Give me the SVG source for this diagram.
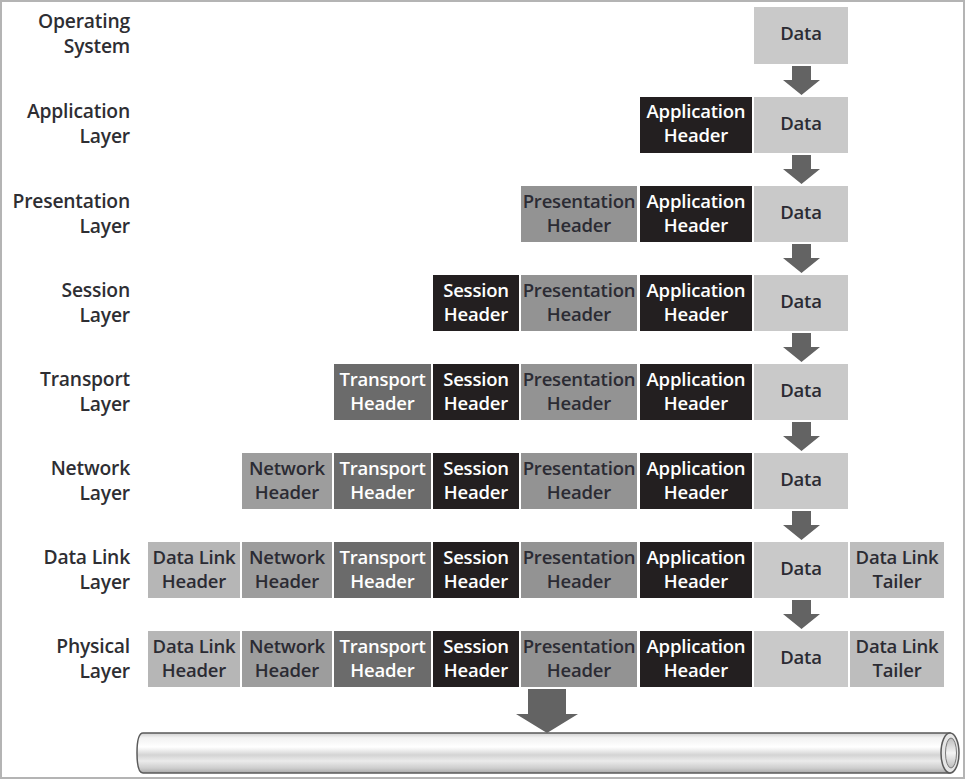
<svg xmlns="http://www.w3.org/2000/svg" width="966" height="780" viewBox="0 0 966 780">
<defs>
<style>
text{font-family:"Open Sans",Lato,"Liberation Sans",sans-serif;font-weight:600;font-size:18.5px;text-anchor:middle;letter-spacing:-0.2px}
.lbl{text-anchor:end;fill:#2e2e33;font-size:19.3px}
.dk{fill:#2b2b33}
.wt{fill:#ffffff}
.data{fill:#c9c9c9}
.app{fill:#231f20}
.pres{fill:#939393}
.ses{fill:#231f20}
.tr{fill:#6b6b6b}
.net{fill:#9d9d9d}
.dlh{fill:#b6b6b6}
.tail{fill:#bdbdbd}
.arr{fill:#636363}
</style>
<linearGradient id="pipe" x1="0" y1="0" x2="0" y2="1">
<stop offset="0" stop-color="#cfcfcf"/>
<stop offset="0.12" stop-color="#f2f2f2"/>
<stop offset="0.35" stop-color="#ffffff"/>
<stop offset="0.55" stop-color="#d4d4d4"/>
<stop offset="0.7" stop-color="#ebebeb"/>
<stop offset="0.88" stop-color="#cdcdcd"/>
<stop offset="1" stop-color="#a8a8a8"/>
</linearGradient>
<linearGradient id="pipeEnd" x1="0" y1="0" x2="0" y2="1">
<stop offset="0" stop-color="#bdbdbd"/>
<stop offset="0.5" stop-color="#f4f4f4"/>
<stop offset="1" stop-color="#bdbdbd"/>
</linearGradient>
</defs>
<rect x="0" y="0" width="966" height="780" fill="#ffffff"/>
<rect x="1" y="1" width="963" height="777" fill="none" stroke="#b4b4b4" stroke-width="2"/>

<g id="labels">
<text class="lbl" x="130" y="28">Operating</text><text class="lbl" x="130" y="53">System</text>
<text class="lbl" x="130" y="118">Application</text><text class="lbl" x="130" y="143">Layer</text>
<text class="lbl" x="130" y="208">Presentation</text><text class="lbl" x="130" y="233">Layer</text>
<text class="lbl" x="130" y="297">Session</text><text class="lbl" x="130" y="322">Layer</text>
<text class="lbl" x="130" y="386">Transport</text><text class="lbl" x="130" y="411">Layer</text>
<text class="lbl" x="130" y="475">Network</text><text class="lbl" x="130" y="500">Layer</text>
<text class="lbl" x="130" y="564">Data Link</text><text class="lbl" x="130" y="589">Layer</text>
<text class="lbl" x="130" y="653">Physical</text><text class="lbl" x="130" y="678">Layer</text>
</g>

<g id="row0">
<g id="r0-data"><rect class="data" x="754" y="7" width="94" height="57"/><text class="dk" x="801" y="40">Data</text></g>
</g>

<g id="row1">
<g id="r1-app"><rect class="app" x="640" y="97" width="112" height="56"/><text class="wt" x="696" y="118">Application</text><text class="wt" x="696" y="142">Header</text></g>
<g id="r1-data"><rect class="data" x="754" y="97" width="94" height="56"/><text class="dk" x="801" y="130">Data</text></g>
</g>

<g id="row2">
<g id="r2-pres"><rect class="pres" x="521" y="186" width="116" height="56"/><text class="dk" x="579" y="208">Presentation</text><text class="dk" x="579" y="232">Header</text></g>
<g id="r2-app"><rect class="app" x="640" y="186" width="112" height="56"/><text class="wt" x="696" y="208">Application</text><text class="wt" x="696" y="232">Header</text></g>
<g id="r2-data"><rect class="data" x="754" y="186" width="94" height="56"/><text class="dk" x="801" y="219">Data</text></g>
</g>

<g id="row3">
<g id="r3-ses"><rect class="ses" x="433" y="275" width="86" height="56"/><text class="wt" x="476" y="297">Session</text><text class="wt" x="476" y="321">Header</text></g>
<g id="r3-pres"><rect class="pres" x="521" y="275" width="116" height="56"/><text class="dk" x="579" y="297">Presentation</text><text class="dk" x="579" y="321">Header</text></g>
<g id="r3-app"><rect class="app" x="640" y="275" width="112" height="56"/><text class="wt" x="696" y="297">Application</text><text class="wt" x="696" y="321">Header</text></g>
<g id="r3-data"><rect class="data" x="754" y="275" width="94" height="56"/><text class="dk" x="801" y="308">Data</text></g>
</g>

<g id="row4">
<g id="r4-tr"><rect class="tr" x="334" y="364" width="97" height="56"/><text class="wt" x="382.5" y="386">Transport</text><text class="wt" x="382.5" y="410">Header</text></g>
<g id="r4-ses"><rect class="ses" x="433" y="364" width="86" height="56"/><text class="wt" x="476" y="386">Session</text><text class="wt" x="476" y="410">Header</text></g>
<g id="r4-pres"><rect class="pres" x="521" y="364" width="116" height="56"/><text class="dk" x="579" y="386">Presentation</text><text class="dk" x="579" y="410">Header</text></g>
<g id="r4-app"><rect class="app" x="640" y="364" width="112" height="56"/><text class="wt" x="696" y="386">Application</text><text class="wt" x="696" y="410">Header</text></g>
<g id="r4-data"><rect class="data" x="754" y="364" width="94" height="56"/><text class="dk" x="801" y="397">Data</text></g>
</g>

<g id="row5">
<g id="r5-net"><rect class="net" x="242" y="453" width="90" height="56"/><text class="dk" x="287" y="475">Network</text><text class="dk" x="287" y="499">Header</text></g>
<g id="r5-tr"><rect class="tr" x="334" y="453" width="97" height="56"/><text class="wt" x="382.5" y="475">Transport</text><text class="wt" x="382.5" y="499">Header</text></g>
<g id="r5-ses"><rect class="ses" x="433" y="453" width="86" height="56"/><text class="wt" x="476" y="475">Session</text><text class="wt" x="476" y="499">Header</text></g>
<g id="r5-pres"><rect class="pres" x="521" y="453" width="116" height="56"/><text class="dk" x="579" y="475">Presentation</text><text class="dk" x="579" y="499">Header</text></g>
<g id="r5-app"><rect class="app" x="640" y="453" width="112" height="56"/><text class="wt" x="696" y="475">Application</text><text class="wt" x="696" y="499">Header</text></g>
<g id="r5-data"><rect class="data" x="754" y="453" width="94" height="56"/><text class="dk" x="801" y="486">Data</text></g>
</g>

<g id="row6">
<g id="r6-dlh"><rect class="dlh" x="148" y="542" width="92" height="56"/><text class="dk" x="194" y="564">Data Link</text><text class="dk" x="194" y="588">Header</text></g>
<g id="r6-net"><rect class="net" x="242" y="542" width="90" height="56"/><text class="dk" x="287" y="564">Network</text><text class="dk" x="287" y="588">Header</text></g>
<g id="r6-tr"><rect class="tr" x="334" y="542" width="97" height="56"/><text class="wt" x="382.5" y="564">Transport</text><text class="wt" x="382.5" y="588">Header</text></g>
<g id="r6-ses"><rect class="ses" x="433" y="542" width="86" height="56"/><text class="wt" x="476" y="564">Session</text><text class="wt" x="476" y="588">Header</text></g>
<g id="r6-pres"><rect class="pres" x="521" y="542" width="116" height="56"/><text class="dk" x="579" y="564">Presentation</text><text class="dk" x="579" y="588">Header</text></g>
<g id="r6-app"><rect class="app" x="640" y="542" width="112" height="56"/><text class="wt" x="696" y="564">Application</text><text class="wt" x="696" y="588">Header</text></g>
<g id="r6-data"><rect class="data" x="754" y="542" width="94" height="56"/><text class="dk" x="801" y="575">Data</text></g>
<g id="r6-tail"><rect class="tail" x="850" y="542" width="94" height="56"/><text class="dk" x="897" y="564">Data Link</text><text class="dk" x="897" y="588">Tailer</text></g>
</g>

<g id="row7">
<g id="r7-dlh"><rect class="dlh" x="148" y="631" width="92" height="56"/><text class="dk" x="194" y="653">Data Link</text><text class="dk" x="194" y="677">Header</text></g>
<g id="r7-net"><rect class="net" x="242" y="631" width="90" height="56"/><text class="dk" x="287" y="653">Network</text><text class="dk" x="287" y="677">Header</text></g>
<g id="r7-tr"><rect class="tr" x="334" y="631" width="97" height="56"/><text class="wt" x="382.5" y="653">Transport</text><text class="wt" x="382.5" y="677">Header</text></g>
<g id="r7-ses"><rect class="ses" x="433" y="631" width="86" height="56"/><text class="wt" x="476" y="653">Session</text><text class="wt" x="476" y="677">Header</text></g>
<g id="r7-pres"><rect class="pres" x="521" y="631" width="116" height="56"/><text class="dk" x="579" y="653">Presentation</text><text class="dk" x="579" y="677">Header</text></g>
<g id="r7-app"><rect class="app" x="640" y="631" width="112" height="56"/><text class="wt" x="696" y="653">Application</text><text class="wt" x="696" y="677">Header</text></g>
<g id="r7-data"><rect class="data" x="754" y="631" width="94" height="56"/><text class="dk" x="801" y="664">Data</text></g>
<g id="r7-tail"><rect class="tail" x="850" y="631" width="94" height="56"/><text class="dk" x="897" y="653">Data Link</text><text class="dk" x="897" y="677">Tailer</text></g>
</g>

<g id="pipe-node">
<path d="M143,733 L950,733 L950,773 L143,773 Q137,773 137,753 Q137,733 143,733 Z" fill="url(#pipe)" stroke="#5a5a5a" stroke-width="1.5"/>
<ellipse cx="950" cy="753" rx="9" ry="20" fill="#e6e6e6" stroke="#5a5a5a" stroke-width="1.5"/>
<ellipse cx="951" cy="753" rx="5.5" ry="15" fill="url(#pipeEnd)" stroke="#7a7a7a" stroke-width="1"/>
</g>

<g id="connectors">
<polygon class="arr" points="792,66 811,66 811,80 820,80 801.5,95 783,80 792,80"/>
<polygon class="arr" points="792,155 811,155 811,169 820,169 801.5,184 783,169 792,169"/>
<polygon class="arr" points="792,244 811,244 811,258 820,258 801.5,273 783,258 792,258"/>
<polygon class="arr" points="792,333 811,333 811,347 820,347 801.5,362 783,347 792,347"/>
<polygon class="arr" points="792,422 811,422 811,436 820,436 801.5,451 783,436 792,436"/>
<polygon class="arr" points="792,511 811,511 811,525 820,525 801.5,540 783,525 792,525"/>
<polygon class="arr" points="792,600 811,600 811,614 820,614 801.5,629 783,614 792,614"/>
<polygon class="arr" points="528,689 566,689 566,714 578,714 547,733 516,714 528,714"/>
</g>
</svg>
